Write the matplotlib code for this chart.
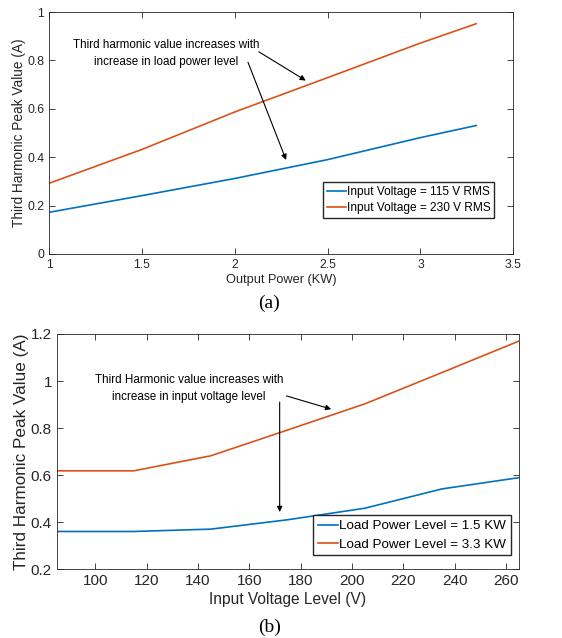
import matplotlib.pyplot as plt
from matplotlib.ticker import FuncFormatter

plt.rcParams['font.family'] = ['Liberation Sans', 'DejaVu Sans']

# (a) third harmonic vs output power
potenza = [1.0, 1.5, 2.0, 2.5, 3.0, 3.3]
armonica_115 = [0.172, 0.241, 0.312, 0.390, 0.481, 0.531]
armonica_230 = [0.292, 0.432, 0.587, 0.729, 0.872, 0.952]

# (b) third harmonic vs input voltage
tensione = [85, 115, 145, 175, 205, 235, 265]
armonica_15kw = [0.360, 0.360, 0.370, 0.410, 0.459, 0.541, 0.589]
armonica_33kw = [0.618, 0.618, 0.682, 0.792, 0.903, 1.036, 1.170]

BLU = '#0072BD'
ARANCIO = '#D95319'
GRIGIO = '#262626'


def formato(v, pos):
    return '%g' % round(v, 2)


def stile(ax, size):
    ax.tick_params(direction='in', top=True, right=True, colors=GRIGIO,
                   labelsize=size, length=4, width=0.6)
    for s in ax.spines.values():
        s.set_color(GRIGIO)
        s.set_linewidth(0.6)
    ax.xaxis.set_major_formatter(FuncFormatter(formato))
    ax.yaxis.set_major_formatter(FuncFormatter(formato))


fig = plt.figure(figsize=(5.62, 6.38), dpi=100)

ax1 = fig.add_axes([0.0872, 0.602, 0.8262, 0.379])
ax1.plot(potenza, armonica_115, color=BLU, lw=1.2, label='Input Voltage = 115 V RMS')
ax1.plot(potenza, armonica_230, color=ARANCIO, lw=1.2, label='Input Voltage = 230 V RMS')
ax1.set_xlim(1, 3.5)
ax1.set_ylim(0, 1)
ax1.set_xticks([1, 1.5, 2, 2.5, 3, 3.5])
ax1.set_yticks([0, 0.2, 0.4, 0.6, 0.8, 1])
stile(ax1, 8.7)
ax1.set_xlabel('Output Power (KW)', fontsize=9.2, color=GRIGIO, labelpad=2)
ax1.set_ylabel('Third Harmonic Peak Value (A)', fontsize=9.8, color=GRIGIO, labelpad=1)
ax1.legend(loc='lower right', bbox_to_anchor=(0.972, 0.125), fontsize=8.6,
           handlelength=1.6, handletextpad=0.1, borderpad=0.3, labelspacing=0.35,
           fancybox=False, edgecolor=GRIGIO, framealpha=1)
ax1.text(1.63, 0.865, 'Third harmonic value increases with', ha='center', va='center', fontsize=8.4)
ax1.text(1.63, 0.795, 'increase in load power level', ha='center', va='center', fontsize=8.4)
ax1.annotate('', xy=(2.395, 0.711), xytext=(2.117, 0.842),
             arrowprops=dict(arrowstyle='-|>', color='black', lw=0.8, mutation_scale=8))
ax1.annotate('', xy=(2.282, 0.378), xytext=(2.066, 0.803),
             arrowprops=dict(arrowstyle='-|>', color='black', lw=0.8, mutation_scale=8))
fig.text(0.4795, 1 - 303 / 638, '(a)', ha='center', va='center', fontsize=14,
         family='Liberation Serif')

ax2 = fig.add_axes([0.101, 0.108, 0.8225, 0.3685])
ax2.plot(tensione, armonica_15kw, color=BLU, lw=1.2, label='Load Power Level = 1.5 KW')
ax2.plot(tensione, armonica_33kw, color=ARANCIO, lw=1.2, label='Load Power Level = 3.3 KW')
ax2.set_xlim(85, 265)
ax2.set_ylim(0.2, 1.2)
ax2.set_xticks(range(100, 261, 20))
ax2.set_yticks([0.2, 0.4, 0.6, 0.8, 1.0, 1.2])
stile(ax2, 11)
ax2.set_xlabel('Input Voltage Level (V)', fontsize=11.2, color=GRIGIO, labelpad=3)
ax2.set_ylabel('Third Harmonic Peak Value (A)', fontsize=12.3, color=GRIGIO, labelpad=1)
ax2.legend(loc='lower right', bbox_to_anchor=(0.997, 0.03), fontsize=9.6,
           handlelength=1.5, handletextpad=0.1, borderpad=0.35, labelspacing=0.45,
           fancybox=False, edgecolor=GRIGIO, framealpha=1)
ax2.text(136.5, 1.005, 'Third Harmonic value increases with', ha='center', va='center', fontsize=8.4)
ax2.text(136.5, 0.931, 'increase in input voltage level', ha='center', va='center', fontsize=8.4)
ax2.annotate('', xy=(192.9, 0.877), xytext=(173.4, 0.94),
             arrowprops=dict(arrowstyle='-|>', color='black', lw=0.8, mutation_scale=8))
ax2.annotate('', xy=(171.8, 0.431), xytext=(171.8, 0.922),
             arrowprops=dict(arrowstyle='-|>', color='black', lw=0.8, mutation_scale=8))
fig.text(0.4795, 1 - 627 / 638, '(b)', ha='center', va='center', fontsize=14,
         family='Liberation Serif')

fig.savefig('out.png', dpi=100)
